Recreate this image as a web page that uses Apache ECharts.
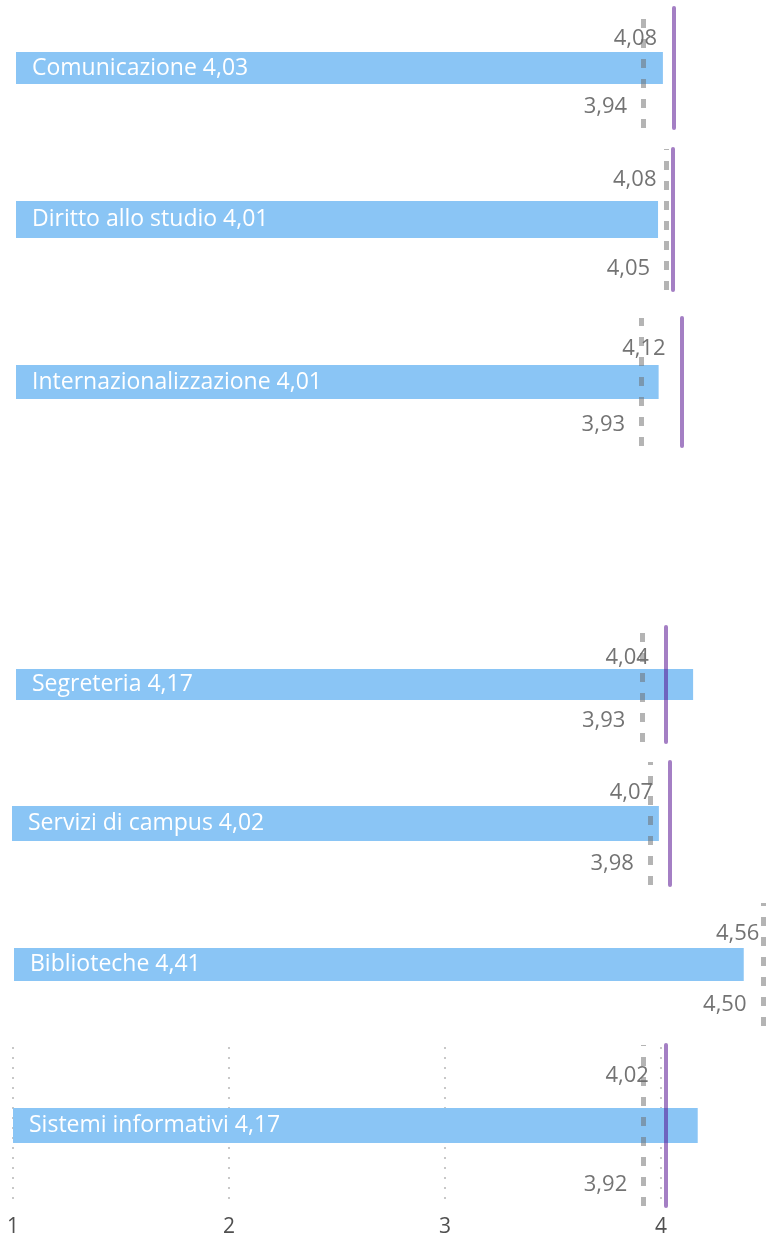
<!DOCTYPE html>
<html>
<head>
<meta charset="utf-8">
<script src="https://cdn.jsdelivr.net/npm/echarts@6/dist/echarts.min.js"></script>
<style>
html,body{margin:0;padding:0;background:#fff;}
#chart{width:768px;height:1238px;}
</style>
</head>
<body>
<div id="chart"></div>
<script>
// ---- data ----
const categories = ['Comunicazione','Diritto allo studio','Internazionalizzazione','Segreteria','Servizi di campus','Biblioteche','Sistemi informativi'];
const scores     = [4.03, 4.01, 4.01, 4.17, 4.02, 4.41, 4.17];
const purpleRef  = [4.08, 4.08, 4.12, 4.04, 4.07, 4.56, 4.02];
const greyRef    = [3.94, 4.05, 3.93, 3.93, 3.98, 4.50, 3.92];
const tickLabels = [1, 2, 3, 4];

// ---- layout (per panel) ----
const layout = [
  {top:8,   h:120, left:16, ppu:213.5, bw:32},
  {top:149, h:141, left:16, ppu:213.3, bw:37},
  {top:318, h:128, left:16, ppu:213.5, bw:34},
  {top:627, h:115, left:16, ppu:213.6, bw:31},
  {top:762, h:123, left:12, ppu:214.2, bw:35},
  {top:903, h:123, left:14, ppu:214,   bw:33},
  {top:1045,h:161, left:13, ppu:216,   bw:35}
];
const W = 768;
const fmt = v => v.toFixed(2).replace('.', ',');
const FONT = 'Open Sans';
const TXT = '#505050';

const grids = [], xAxes = [], yAxes = [], series = [];
layout.forEach((p, i) => {
  grids.push({left: p.left, top: p.top, width: W - p.left, height: p.h});
  xAxes.push({
    type: 'value', gridIndex: i, min: tickLabels[0], max: 1 + (W - p.left) / p.ppu,
    show: false, splitLine: {show: false}
  });
  yAxes.push({type: 'category', gridIndex: i, data: [categories[i]], show: false});
  series.push({
    type: 'bar', xAxisIndex: i, yAxisIndex: i, barWidth: p.bw,
    data: [scores[i]],
    itemStyle: {color: '#8AC5F5'},
    label: {
      show: true, position: 'insideLeft', distance: 16,
      color: '#fff', fontSize: 23, fontFamily: FONT,
      formatter: () => categories[i] + ' ' + fmt(scores[i])
    },
    markLine: {
      silent: true, symbol: ['none', 'none'], animation: false,
      label: {show: false},
      data: [
        {xAxis: purpleRef[i], lineStyle: {color: 'rgba(83,13,143,0.53)', width: 4, type: 'solid', cap: 'round'}},
        {xAxis: greyRef[i], lineStyle: {color: 'rgba(107,107,107,0.51)', width: 5, type: [9, 11]}}
      ]
    }
  });
  const mkLabel = (val, dy) => ({
    type: 'scatter', xAxisIndex: i, yAxisIndex: i, clip: false, silent: true,
    symbolSize: 1, itemStyle: {color: 'rgba(0,0,0,0)'},
    data: [[val, categories[i]]],
    label: {
      show: true, position: 'left', distance: 16, offset: [0, dy],
      color: TXT, fontSize: 22, fontFamily: FONT,
      formatter: () => fmt(val)
    }
  });
  series.push(mkLabel(purpleRef[i], 31 - p.h / 2));
  series.push(mkLabel(greyRef[i], p.h / 2 - 21));
});

// shared axis shown under the last panel (ticks 1..4 only)
const last = layout[layout.length - 1];
grids.push({left: last.left, top: last.top + 2, width: (tickLabels[tickLabels.length - 1] - tickLabels[0]) * last.ppu, height: last.h - 1});
xAxes.push({
  type: 'value', gridIndex: layout.length, min: tickLabels[0], max: tickLabels[tickLabels.length - 1], interval: 1,
  axisLine: {show: false}, axisTick: {show: false},
  splitLine: {show: true, lineStyle: {color: '#c8c8c8', type: [2, 8], width: 2}},
  axisLabel: {show: true, margin: 12, color: TXT, fontSize: 21, fontFamily: FONT}
});
yAxes.push({type: 'value', gridIndex: layout.length, show: false, min: 0, max: 1});

const chart = echarts.init(document.getElementById('chart'), null, {renderer: 'canvas'});
chart.setOption({
  backgroundColor: '#fff',
  animation: false,
  grid: grids, xAxis: xAxes, yAxis: yAxes, series: series
});
</script>
</body>
</html>
